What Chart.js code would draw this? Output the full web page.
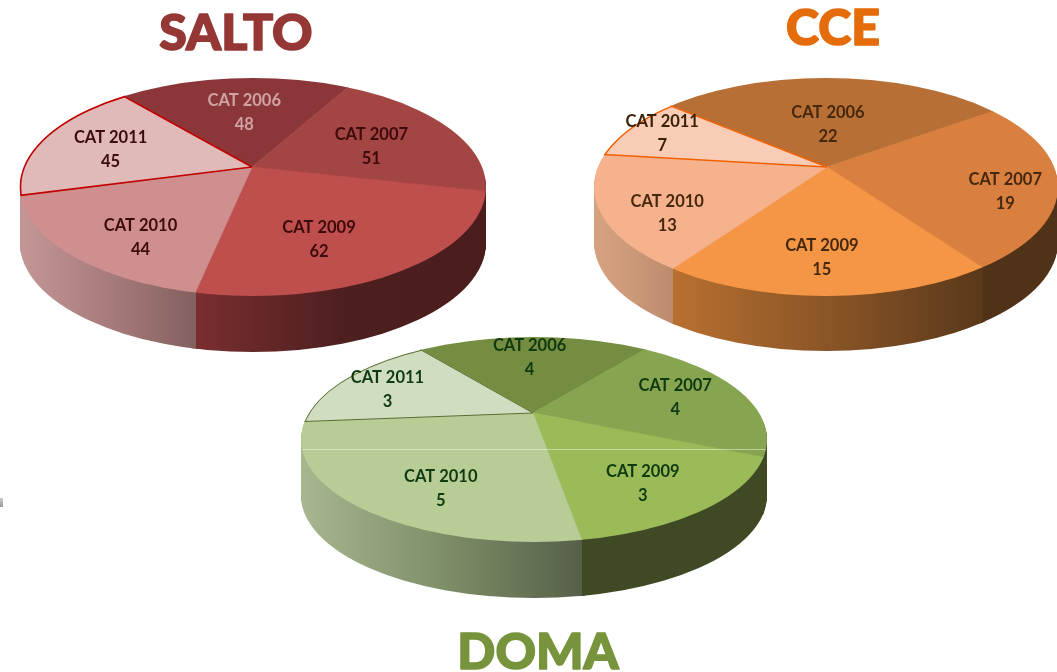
<!DOCTYPE html>
<html><head><meta charset="utf-8">
<style>
html,body{margin:0;padding:0;background:#fff;overflow:hidden}
#stage{position:relative;width:1057px;height:672px;background:#fff}
canvas{position:absolute;left:0;top:0}
#mark{position:absolute;left:0;top:498px;width:3px;height:9px;background:linear-gradient(#ccc,#999)}
</style>
<script src="https://cdn.jsdelivr.net/npm/chart.js@4"></script>
</head><body>
<div id="stage">
<canvas id="salto" width="1057" height="672"></canvas>
<canvas id="cce" width="1057" height="672"></canvas>
<canvas id="doma" width="1057" height="672"></canvas>
<div id="mark"></div>
</div>
<script>
const categories = ['CAT 2006','CAT 2007','CAT 2009','CAT 2010','CAT 2011'];
const saltoValues = [48,51,62,44,45];
const cceValues = [22,19,15,13,7];
const domaValues = [4,4,3,5,3];

const saltoStyle = {
  title:'SALTO', titleColor:'#953735', titleX:236, titleY:50,
  hub:[252,167], ellipse:[253,187,233,109], ry:108, depth:56, rotation:-40,
  face:['#8b3739','#a34543','#be4f4d','#cf8f8e','#e0b9b9'],
  side:[null,['#4a1c1c','#4a1c1c','#4a1c1c'],['#7a2e30','#4e1f1f','#4a1c1c'],['#c49696','#a87c7c','#846060'],['#c49696','#c49696','#c49696']],
  edged:[4], edgeColor:'#c00000', edgeWidth:1.6,
  text:['#cfa3a3','#3c0b0b','#3c0b0b','#3c0b0b','#3c0b0b'],
  labelR:[0.51,0.55,0.727,0.80,0.63], labelTurn:[1.7,2.8,9.5,-6.8,-2]
};
const cceStyle = {
  title:'CCE', titleColor:'#e46c0a', titleX:833, titleY:45,
  hub:[827,167], ellipse:[826,187,232,109], ry:108, depth:55, rotation:-50,
  face:['#b86f35','#d98040','#f59646','#f5b28c','#f8ccb5'],
  side:[null,['#503218','#503218','#503218'],['#b87030','#8a5526','#5a381a'],['#d6a282','#cb9878','#bd8a6c'],['#d6a282','#d6a282','#d6a282']],
  edged:[4], edgeColor:'#f26000', edgeWidth:1.4,
  text:['#46280e','#46280e','#46280e','#46280e','#3a2008'],
  labelR:[0.40,0.80,0.83,0.81,0.78], labelTurn:[-1.5,6.9,1.8,-7.8,1]
};
const domaStyle = {
  title:'DOMA', titleColor:'#77933c', titleX:538, titleY:669,
  hub:[533,413], ellipse:[534,439.5,233,102.5], ry:102.5, depth:56, rotation:-38,
  face:['#748d40','#87a550','#9bbb59','#b7cd95','#d0ddc0'],
  side:[null,['#3f4a24','#3f4a24','#3f4a24'],['#3f4a24','#3f4a24','#3f4a24'],['#a8b78f','#7f8f68','#566049'],['#a8b78f','#a8b78f','#a8b78f']],
  edged:[4], edgeColor:'#5a6e30', edgeWidth:1,
  text:['#0f3a10','#0f3a10','#0f3a10','#0f3a10','#0f3a10'],
  labelR:[0.55,0.63,0.83,0.83,0.67], labelTurn:[-1.4,0,3.4,-9.3,-2.4],
  seamY:449
};
const OVER = 1.4;
const LABEL_FONT = 'bold 16.5px Lato';

function proj(s, ang, r){
  return [s.hub[0]+s.ellipse[2]*r*Math.cos(ang), s.hub[1]+s.ry*r*Math.sin(ang)];
}
function rimPoint(s, ang){
  const e=s.ellipse;
  for(let r=0.2;r<2;r+=0.004){
    const p=proj(s,ang,r), u=(p[0]-e[0])/e[2], v=(p[1]-e[1])/e[3];
    if(u*u+v*v>=1) return p;
  }
  return proj(s,ang,1);
}
function ellipseClip(ctx,s,dy){
  const e=s.ellipse;
  ctx.beginPath(); ctx.ellipse(e[0],e[1]+dy,e[2],e[3],0,0,Math.PI*2); ctx.clip();
}
function pieTransform(ctx,s,dy,x0,y0,R0){
  ctx.translate(s.hub[0],s.hub[1]+dy);
  ctx.scale(s.ellipse[2]*OVER/R0,s.ry*OVER/R0);
  ctx.translate(-x0,-y0);
}
const pie3d = {
  id:'pie3d',
  beforeDatasetDraw(chart,args){
    const s=chart.config.options.plugins.pie3d.style, ctx=chart.ctx, arcs=args.meta.data;
    const x0=arcs[0].x,y0=arcs[0].y,R0=arcs[0].outerRadius, sx=s.ellipse[2]*OVER/R0;
    // side wall: each slice owns the stretch of rim between its two spokes
    arcs.forEach((arc,i)=>{
      if(!s.side[i]) return;
      let a=1e9,b=-1e9;
      const take=t=>{
        const p=rimPoint(s,t);
        if(p[1]>=s.ellipse[1]-1){a=Math.min(a,p[0]);b=Math.max(b,p[0]);}
      };
      for(let t=arc.startAngle;t<arc.endAngle;t+=0.004) take(t);
      take(arc.endAngle);
      if(a>b) return;
      const saved=[arc.options.backgroundColor,arc.options.borderWidth,arc.options.borderColor];
      arc.options.borderWidth=8;
      const xa=Math.floor(a)-(a<s.ellipse[0]-s.ellipse[2]+3?3:0), xb=Math.ceil(b)+(b>s.ellipse[0]+s.ellipse[2]-3?3:0);
      for(let d=s.depth;d>=1;d--){
        ctx.save();
        ctx.beginPath();ctx.rect(xa,0,xb-xa,672);ctx.clip();
        ellipseClip(ctx,s,d);
        pieTransform(ctx,s,d,x0,y0,R0);
        const g=ctx.createLinearGradient(x0+(a-s.hub[0])/sx,0,x0+(b-s.hub[0])/sx,0);
        s.side[i].forEach((c,k)=>g.addColorStop(k/(s.side[i].length-1),c));
        arc.options.backgroundColor=g;
        arc.options.borderColor=g;
        arc.draw(ctx);
        ctx.restore();
      }
      arc.options.backgroundColor=saved[0]; arc.options.borderWidth=saved[1]; arc.options.borderColor=saved[2];
    });
    // top face
    ctx.save(); ellipseClip(ctx,s,0);
    ctx.save(); pieTransform(ctx,s,0,x0,y0,R0);
    arcs.forEach(arc=>arc.draw(ctx));
    ctx.restore();
    if(s.seamY){
      ctx.strokeStyle='rgba(255,255,255,0.45)';ctx.lineWidth=1;
      ctx.beginPath();ctx.moveTo(290,s.seamY+0.5);ctx.lineTo(780,s.seamY+0.5);ctx.stroke();
    }
    ctx.restore();
    // outlined slice edge
    s.edged.forEach(i=>{
      const arc=arcs[i];
      ctx.save();
      ctx.beginPath(); ctx.moveTo(s.hub[0],s.hub[1]);
      for(let t=arc.startAngle;t<=arc.endAngle+1e-6;t+=0.02){const p=proj(s,t,1.6);ctx.lineTo(p[0],p[1]);}
      const pe=proj(s,arc.endAngle,1.6);ctx.lineTo(pe[0],pe[1]);
      ctx.closePath();ctx.clip();
      ctx.strokeStyle=s.edgeColor;ctx.lineWidth=s.edgeWidth;
      ctx.beginPath();ctx.ellipse(s.ellipse[0],s.ellipse[1],s.ellipse[2]-0.5,s.ellipse[3]-0.5,0,0,Math.PI*2);ctx.stroke();
      ctx.restore();
      ctx.save();
      ctx.strokeStyle=s.edgeColor;ctx.lineWidth=s.edgeWidth;
      [arc.startAngle,arc.endAngle].forEach(t=>{
        const q=rimPoint(s,t);
        ctx.beginPath();ctx.moveTo(s.hub[0],s.hub[1]);ctx.lineTo(q[0],q[1]);ctx.stroke();
      });
      ctx.restore();
    });
    return false;
  },
  afterDraw(chart){
    const s=chart.config.options.plugins.pie3d.style, ctx=chart.ctx, arcs=chart.getDatasetMeta(0).data;
    ctx.save();
    ctx.textAlign='center';ctx.textBaseline='middle';ctx.font=LABEL_FONT;
    arcs.forEach((arc,i)=>{
      const mid=(arc.startAngle+arc.endAngle)/2+s.labelTurn[i]*Math.PI/180, p=proj(s,mid,s.labelR[i]);
      ctx.fillStyle=s.text[i];
      ctx.fillText(chart.data.labels[i],p[0],p[1]-11);
      ctx.fillText(String(chart.data.datasets[0].data[i]),p[0],p[1]+13);
    });
    ctx.textBaseline='alphabetic';
    ctx.font='900 50px Lato';ctx.fillStyle=s.titleColor;ctx.strokeStyle=s.titleColor;
    ctx.lineWidth=1.6;ctx.lineJoin='round';
    ctx.strokeText(s.title,s.titleX,s.titleY);
    ctx.fillText(s.title,s.titleX,s.titleY);
    ctx.restore();
  }
};
function makePie(id,values,style){
  return new Chart(document.getElementById(id),{
    type:'pie',
    plugins:[pie3d],
    data:{labels:categories,datasets:[{data:values,backgroundColor:style.face,borderColor:style.face,borderWidth:1}]},
    options:{
      responsive:false,animation:false,rotation:style.rotation,
      layout:{padding:0},events:[],
      plugins:{legend:{display:false},tooltip:{enabled:false},title:{display:false},pie3d:{style}}
    }
  });
}
makePie('salto',saltoValues,saltoStyle);
makePie('cce',cceValues,cceStyle);
makePie('doma',domaValues,domaStyle);
</script>
</body></html>
